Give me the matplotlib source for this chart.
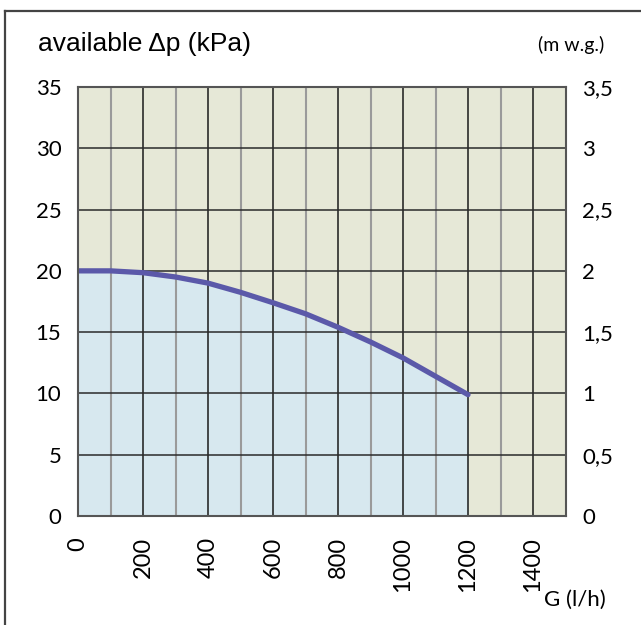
import matplotlib
matplotlib.use("Agg")
import matplotlib.pyplot as plt
from matplotlib.lines import Line2D

# Data
flow_lh = [0, 100, 200, 300, 400, 500, 600, 700, 800, 900, 1000, 1100, 1200]
dp_kpa = [20.0, 20.0, 19.85, 19.5, 19.0, 18.25, 17.4, 16.5, 15.4, 14.2, 12.9, 11.4, 9.9]
x_ticks = [0, 200, 400, 600, 800, 1000, 1200, 1400]
y_ticks = [0, 5, 10, 15, 20, 25, 30, 35]
y_right_labels = ["0", "0,5", "1", "1,5", "2", "2,5", "3", "3,5"]

BG = "#e6e8d7"
FILL = "#d7e8ef"
LINE = "#5b59a9"
TICKFONT = "Lato"

fig = plt.figure(figsize=(6.41, 6.25), dpi=100)
ax = fig.add_axes([78 / 641, 1 - 516 / 625, (565.5 - 78) / 641, (516 - 87) / 625])
ax.set_facecolor(BG)
ax.set_xlim(0, 1500)
ax.set_ylim(0, 35)

ax.fill_between(flow_lh, dp_kpa, 0, color=FILL, zorder=1, lw=0)

# grid
for v in range(100, 1500, 100):
    if v % 200 == 0:
        ax.axvline(v, color="#1a1a1a", lw=1.1, zorder=2)
    else:
        ax.axvline(v, color="#9a9a9a", lw=1.5, zorder=2)
for v in range(5, 35, 5):
    ax.axhline(v, color="#2a2a2a", lw=1.1, zorder=2)

ax.plot(flow_lh, dp_kpa, color=LINE, lw=3.8, solid_capstyle="round", zorder=3)

for s in ax.spines.values():
    s.set_color("#555555")
    s.set_linewidth(1.5)
    s.set_zorder(4)

ax.set_xticks(x_ticks)
ax.set_xticklabels([str(v) for v in x_ticks], rotation=90, fontsize=17, family=TICKFONT)
ax.set_yticks(y_ticks)
ax.set_yticklabels([str(v) for v in y_ticks], fontsize=16, family=TICKFONT)
ax.tick_params(axis="x", length=0, pad=15)
ax.tick_params(axis="y", length=0, pad=12)

ax2 = ax.twinx()
ax2.set_ylim(0, 35)
ax2.set_yticks(y_ticks)
ax2.set_yticklabels(y_right_labels, fontsize=16, family=TICKFONT)
ax2.tick_params(axis="y", length=0, pad=12)
for s in ax2.spines.values():
    s.set_visible(False)

fig.text(38 / 641, 1 - 44 / 625, "available \u0394p (kPa)", fontsize=19,
         family="Liberation Sans", ha="left", va="center")
fig.text(604 / 641, 1 - 45 / 625, "(m w.g.)", fontsize=14, family=TICKFONT,
         ha="right", va="center")
fig.text(606 / 641, 1 - 600 / 625, "G (l/h)", fontsize=16, family=TICKFONT,
         ha="right", va="center")

# frame (left and top)
fig.add_artist(Line2D([5 / 641, 5 / 641], [0, 1 - 11 / 625], color="#444444", lw=1.6,
                      transform=fig.transFigure))
fig.add_artist(Line2D([5 / 641, 1], [1 - 11 / 625, 1 - 11 / 625], color="#444444", lw=1.6,
                      transform=fig.transFigure))

fig.savefig("out.png", dpi=100)
